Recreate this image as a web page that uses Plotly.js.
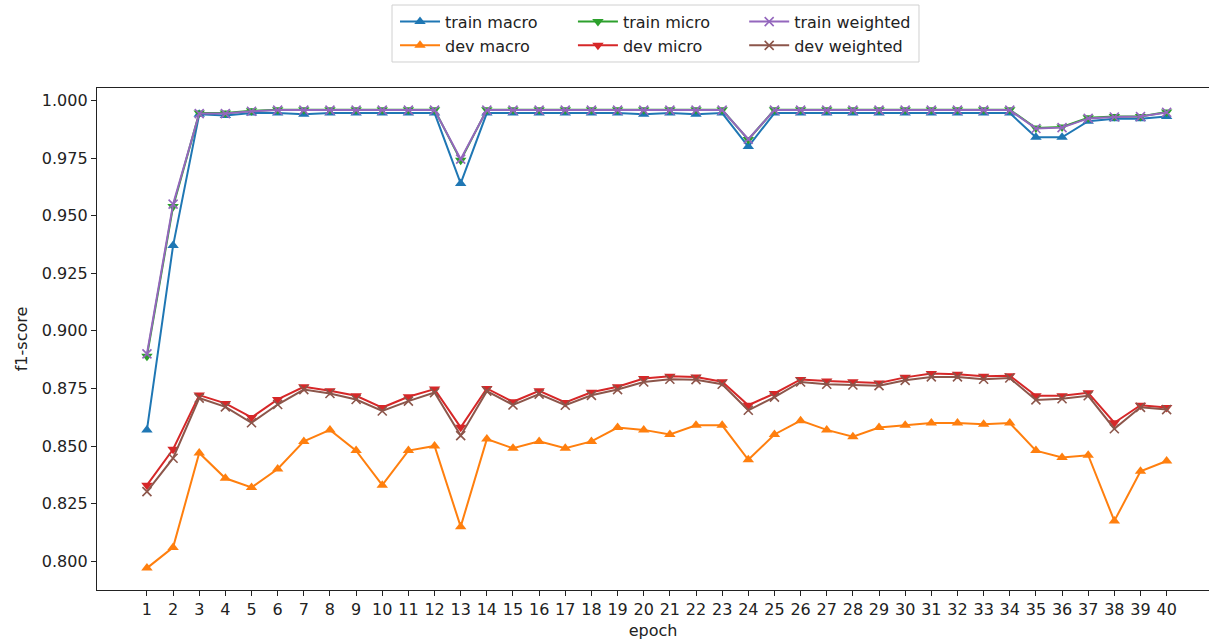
<!DOCTYPE html>
<html>
<head>
<meta charset="utf-8">
<script src="https://cdn.plot.ly/plotly-3.0.1.min.js"></script>
<style>html,body{margin:0;padding:0;background:#fff;}#chart{width:1209px;height:640px;}</style>
</head>
<body>
<div id="chart"></div>
<script>
const epochs = [1,2,3,4,5,6,7,8,9,10,11,12,13,14,15,16,17,18,19,20,21,22,23,24,25,26,27,28,29,30,31,32,33,34,35,36,37,38,39,40];

const trainMacro = [0.857,0.937,0.994,0.9935,0.9945,0.9945,0.994,0.9945,0.9945,0.9945,0.9945,0.9945,0.964,0.9945,0.9945,0.9945,0.9945,0.9945,0.9945,0.994,0.9945,0.994,0.9945,0.980,0.9945,0.9945,0.9945,0.9945,0.9945,0.9945,0.9945,0.9945,0.9945,0.9945,0.984,0.984,0.991,0.992,0.992,0.993];
const devMacro = [0.797,0.806,0.847,0.836,0.832,0.840,0.852,0.857,0.848,0.833,0.848,0.850,0.815,0.853,0.849,0.852,0.849,0.852,0.858,0.857,0.855,0.859,0.859,0.844,0.855,0.861,0.857,0.854,0.858,0.859,0.860,0.860,0.8595,0.860,0.848,0.845,0.846,0.8175,0.839,0.8435];
const trainMicro = [0.889,0.954,0.9945,0.9945,0.9955,0.996,0.996,0.996,0.996,0.996,0.996,0.996,0.974,0.996,0.996,0.996,0.996,0.996,0.996,0.996,0.996,0.996,0.996,0.983,0.996,0.996,0.996,0.996,0.996,0.996,0.996,0.996,0.996,0.996,0.988,0.9885,0.9925,0.993,0.993,0.995];
const devMicro = [0.833,0.8486,0.8721,0.8685,0.8624,0.8702,0.8757,0.8740,0.8718,0.8667,0.8714,0.8747,0.8581,0.8750,0.8692,0.8740,0.8689,0.8733,0.8757,0.8793,0.8803,0.8800,0.8779,0.8677,0.8728,0.8789,0.8782,0.8779,0.8774,0.8798,0.8815,0.8812,0.8803,0.8805,0.8718,0.8718,0.8731,0.8601,0.8677,0.8667];
const trainWeighted = [0.890,0.955,0.9943,0.9943,0.9953,0.9958,0.9958,0.9958,0.9958,0.9958,0.9958,0.9958,0.9745,0.9958,0.9958,0.9958,0.9958,0.9958,0.9958,0.9958,0.9958,0.9958,0.9958,0.9832,0.9958,0.9958,0.9958,0.9958,0.9958,0.9958,0.9958,0.9958,0.9958,0.9958,0.9878,0.9882,0.9922,0.9928,0.993,0.9948];
const devWeighted = [0.8302,0.8447,0.8708,0.8670,0.8601,0.8680,0.8745,0.8728,0.8702,0.8652,0.8695,0.8732,0.8545,0.8738,0.8678,0.8725,0.8677,0.8720,0.8745,0.8778,0.8790,0.8788,0.8768,0.8655,0.8712,0.8778,0.8768,0.8765,0.8762,0.8785,0.8800,0.8800,0.8790,0.8795,0.8700,0.8705,0.8718,0.8575,0.8668,0.8658];

const yTicks = [0.800,0.825,0.850,0.875,0.900,0.925,0.950,0.975,1.000];

const FONT = 'DejaVu Sans, sans-serif';
function tr(name, y, color, symbol, legend) {
  const isX = symbol.indexOf('x') === 0;
  return {
    x: epochs, y: y, name: name, type: 'scatter', mode: 'lines+markers',
    legend: legend, legendgroup: name,
    line: {color: color, width: 2},
    marker: isX
      ? {symbol: 'x-thin-open', size: 9, color: color, line: {color: color, width: 1.6}}
      : {symbol: symbol, size: 10, color: color, line: {width: 0}}
  };
}

const data = [
  tr('train macro', trainMacro, '#1f77b4', 'triangle-up', 'legend'),
  tr('dev macro', devMacro, '#ff7f0e', 'triangle-up', 'legend'),
  tr('train micro', trainMicro, '#2ca02c', 'triangle-down', 'legend2'),
  tr('dev micro', devMicro, '#d62728', 'triangle-down', 'legend2'),
  tr('train weighted', trainWeighted, '#9467bd', 'x', 'legend3'),
  tr('dev weighted', devWeighted, '#8c564b', 'x', 'legend3')
];

const legBase = {yanchor: 'top', xanchor: 'left', y: 1.166, bgcolor: 'rgba(0,0,0,0)', borderwidth: 0,
  font: {family: FONT, size: 16, color: '#222'}, tracegroupgap: 0, itemwidth: 40, orientation: 'v'};

const layout = {
  width: 1209, height: 640,
  margin: {l: 97, r: 0, t: 88, b: 50, pad: 0},
  paper_bgcolor: '#fff', plot_bgcolor: '#fff',
  font: {family: FONT, size: 16, color: '#222'},
  showlegend: true,
  legend: Object.assign({}, legBase, {x: 0.268}),
  legend2: Object.assign({}, legBase, {x: 0.428}),
  legend3: Object.assign({}, legBase, {x: 0.582}),
  shapes: [{type: 'rect', xref: 'paper', yref: 'paper', x0: 0.2653, x1: 0.7392, y0: 1.0518, y1: 1.1653,
    line: {color: '#d0d0d0', width: 1}, fillcolor: 'rgba(255,255,255,0)'}],
  xaxis: {
    range: [-0.91, 41.62], tickvals: epochs, ticktext: epochs.map(String),
    showgrid: false, zeroline: false, showline: true, linecolor: '#222', linewidth: 1.2, mirror: true,
    ticks: 'outside', ticklen: 5, tickwidth: 1, tickcolor: '#222',
    tickfont: {family: FONT, size: 16, color: '#222'}, automargin: false,
    title: {text: 'epoch', font: {family: FONT, size: 16, color: '#222'}, standoff: 6}
  },
  yaxis: {
    range: [0.7875, 1.0054], tickvals: yTicks, tickformat: '.3f',
    showgrid: false, zeroline: false, showline: true, linecolor: '#222', linewidth: 1.2, mirror: false,
    ticks: 'outside', ticklen: 5, tickwidth: 1, tickcolor: '#222',
    tickfont: {family: FONT, size: 16, color: '#222'}, automargin: false,
    title: {text: 'f1-score', font: {family: FONT, size: 16, color: '#222'}, standoff: 10}
  }
};

Plotly.newPlot('chart', data, layout, {displayModeBar: false, staticPlot: true});
</script>
</body>
</html>
